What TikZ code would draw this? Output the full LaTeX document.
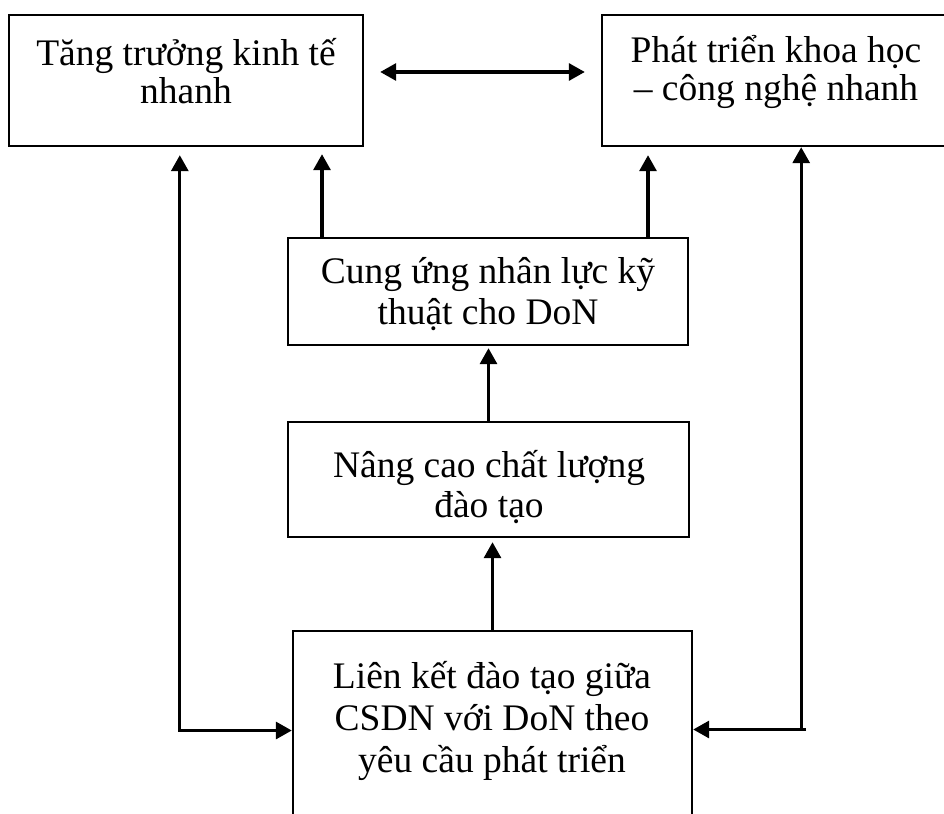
\documentclass[tikz,border=0pt]{standalone}
\usepackage{fontspec}
\setmainfont{Liberation Serif}
\usetikzlibrary{arrows.meta,calc}
\begin{document}
\begin{tikzpicture}[x=1pt,y=-1pt,
  box/.style={draw, line width=2.4pt, inner sep=0pt},
  lbl/.style={align=center, font=\fontsize{37.5}{40}\selectfont, inner sep=0pt, anchor=base},
  conn/.style={line width=3.2pt, -{Triangle[length=16pt,width=17pt]}},
  biconn/.style={line width=3.2pt, {Triangle[length=16pt,width=17pt]}-{Triangle[length=16pt,width=17pt]}},
]
\clip (0,0) rectangle (944,813);
\fill[white] (0,0) rectangle (944,813);

% boxes
\node[box, minimum width=354pt, minimum height=131pt] (tl) at (186,80.5) {};
\node[box, minimum width=346pt, minimum height=131pt] (tr) at (775,80.5) {};
\node[box, minimum width=400pt, minimum height=107pt] (cung) at (488,291.5) {};
\node[box, minimum width=401pt, minimum height=115pt] (nang) at (488.5,479.5) {};
\node[box, minimum width=399pt, minimum height=199pt] (lien) at (492.5,730.5) {};

% texts
\node[lbl, font=\fontsize{37.5}{38}\selectfont] (tltext) at (186,104) {Tăng trưởng kinh tế\\nhanh};
\node[lbl, font=\fontsize{37.5}{38}\selectfont] (trtext) at (776,101) {Phát triển khoa học\\– công nghệ nhanh};
\node[lbl, font=\fontsize{37.5}{41}\selectfont] (cungtext) at (488,324) {Cung ứng nhân lực kỹ\\thuật cho DoN};
\node[lbl] (nangtext) at (489,517) {Nâng cao chất lượng\\đào tạo};
\node[lbl, font=\fontsize{37.5}{42}\selectfont] (lientext) at (492,772) {Liên kết đào tạo giữa\\CSDN với DoN theo\\yêu cầu phát triển};

% connectors
\draw[biconn] ($(tl.east)+(16,-8.5)$) -- ($(tr.west)+(-16,-8.5)$);

\coordinate (c1) at ($(cung.north)+(-166,0)$);
\coordinate (c2) at ($(cung.north)+(160,0)$);
\draw[conn, shorten >=7pt] (c1) -- (c1 |- tl.south);
\draw[conn, shorten >=8pt] (c2) -- (c2 |- tr.south);

\draw[conn, shorten >=2pt] (nang.north) -- (nang.north |- cung.south);
\draw[conn, shorten >=4pt] (lien.north) -- (lien.north |- nang.south);

\coordinate (lc) at ($(lien.west)+(-112,0)$);
\draw[biconn, shorten <=8pt] (lc |- tl.south) -- (lc) -- (lien.west);

\coordinate (rc) at ($(lien.east)+(108,-1)$);
\coordinate (rcend) at ($(lien.east)+(113,-1)$);
\draw[conn] (rcend) -- (lien.east |- rcend);
\draw[conn] (rc) -- (rc |- tr.south);
\end{tikzpicture}
\end{document}
